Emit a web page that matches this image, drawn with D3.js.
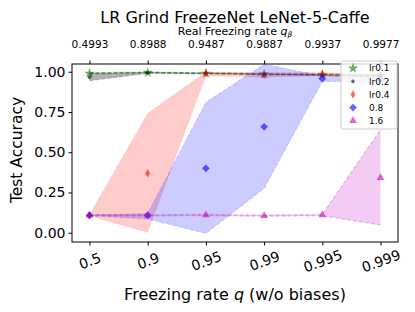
<!DOCTYPE html>
<html>
<head>
<meta charset="utf-8">
<script src="https://cdn.jsdelivr.net/npm/d3@7"></script>
<style>
  body { margin: 0; background: #fff; }
  text { font-family: "DejaVu Sans", sans-serif; }
</style>
</head>
<body>
<div id="chart"></div>
<script>
// tick labels
const categories = ["0.5", "0.9", "0.95", "0.99", "0.995", "0.999"];
const realRates = ["0.4993", "0.8988", "0.9487", "0.9887", "0.9937", "0.9977"];
const yTicks = [0, 0.25, 0.5, 0.75, 1.0];

// series values (mean, lower band, upper band)
const lr01Mean  = [0.990, 0.995, 0.990, 0.985, 0.982, 0.975];
const lr01Low   = [0.986, 0.992, 0.987, 0.982, 0.978, 0.970];
const lr01High  = [0.994, 0.998, 0.993, 0.988, 0.986, 0.980];

const lr02Mean  = [0.965, 0.993, 0.990, 0.985, 0.980, 0.975];
const lr02Low   = [0.944, 0.990, 0.987, 0.982, 0.976, 0.970];
const lr02High  = [0.992, 0.996, 0.993, 0.988, 0.984, 0.980];

const lr04Mean  = [0.108, 0.370, 0.990, 0.980, 0.986, 0.975];
const lr04Low   = [0.104, 0.002, 0.975, 0.965, 0.975, 0.965];
const lr04High  = [0.112, 0.742, 0.998, 0.995, 0.995, 0.985];

const lr08Mean  = [0.108, 0.108, 0.400, 0.658, 0.957, 0.950];
const lr08Low   = [0.105, 0.085, -0.005, 0.275, 0.940, 0.935];
const lr08High  = [0.111, 0.120, 0.810, 1.046, 0.975, 0.965];

const lr16Mean  = [0.108, 0.108, 0.110, 0.106, 0.110, 0.342];
const lr16Low   = [0.105, 0.105, 0.106, 0.102, 0.106, 0.048];
const lr16High  = [0.111, 0.111, 0.114, 0.110, 0.114, 0.640];

const series = [
  {name: "lr0.1", mean: lr01Mean, low: lr01Low, high: lr01High, color: "#008000", fill: 0.2, line: 0.3, marker: "star"},
  {name: "lr0.2", mean: lr02Mean, low: lr02Low, high: lr02High, color: "#000000", fill: 0.3, line: 0.2, marker: "dot"},
  {name: "lr0.4", mean: lr04Mean, low: lr04Low, high: lr04High, color: "#ff0000", fill: 0.2, line: 0.06, marker: "thin"},
  {name: "0.8",   mean: lr08Mean, low: lr08Low, high: lr08High, color: "#0000ff", fill: 0.2, line: 0.12, marker: "diamond"},
  {name: "1.6",   mean: lr16Mean, low: lr16Low, high: lr16High, color: "#bf00bf", fill: 0.2, line: 0.25, marker: "triangle"}
];

const W = 415, H = 312;
const pLeft = 72, pRight = 398, pTop = 64, pBottom = 242;

const svg = d3.select("#chart").append("svg")
  .attr("width", W).attr("height", H);

const x = d3.scaleLinear().domain([-0.3, 5.3]).range([pLeft, pRight]);
const y = d3.scaleLinear().domain([-0.0575, 1.048]).range([pBottom, pTop]);

const plot = svg.append("g");
plot.append("clipPath").attr("id", "clip")
  .append("rect").attr("x", pLeft).attr("y", pTop)
  .attr("width", pRight - pLeft).attr("height", pBottom - pTop);
const inner = plot.append("g").attr("clip-path", "url(#clip)");

// marker shapes
function markerPath(kind) {
  if (kind === "star") return d3.symbol(d3.symbolStar, 34)();
  if (kind === "dot") return d3.symbol(d3.symbolCircle, 10)();
  if (kind === "triangle") return d3.symbol(d3.symbolTriangle, 26)();
  return d3.symbol(d3.symbolSquare, 30)();
}
function markerTransform(kind, px, py) {
  if (kind === "diamond") return `translate(${px},${py}) rotate(45)`;
  if (kind === "thin") return `translate(${px},${py}) scale(0.6,1.1) rotate(45)`;
  return `translate(${px},${py})`;
}

const idx = d3.range(categories.length);

series.forEach(s => {
  // band
  inner.append("path")
    .datum(idx)
    .attr("fill", s.color)
    .attr("fill-opacity", s.fill)
    .attr("d", d3.area()
      .x(i => x(i))
      .y0(i => y(s.low[i]))
      .y1(i => y(s.high[i])));

  // dashed band edges
  [s.low, s.high].forEach(edge => {
    inner.append("path")
      .datum(idx)
      .attr("fill", "none")
      .attr("stroke", s.color)
      .attr("stroke-opacity", s.line)
      .attr("stroke-width", 1.2)
      .attr("stroke-dasharray", "4,2")
      .attr("d", d3.line().x(i => x(i)).y(i => y(edge[i])));
  });

  // markers
  inner.selectAll(null)
    .data(idx)
    .join("path")
    .attr("d", markerPath(s.marker))
    .attr("transform", i => markerTransform(s.marker, x(i), y(s.mean[i])))
    .attr("fill", s.color)
    .attr("fill-opacity", 0.6);
});

// bottom axis
const xAxis = plot.append("g")
  .attr("transform", `translate(0,${pBottom})`)
  .call(d3.axisBottom(x).tickValues(idx).tickFormat(i => categories[i]).tickSize(3.5).tickSizeOuter(0));
xAxis.select(".domain").remove();
xAxis.selectAll("text")
  .attr("y", 0).attr("dy", "0.35em")
  .attr("font-size", 14)
  .attr("fill", "#000")
  .attr("text-anchor", "middle")
  .attr("transform", "translate(0,19) rotate(-20)");

// top axis
const xTop = plot.append("g")
  .attr("transform", `translate(0,${pTop})`)
  .call(d3.axisTop(x).tickValues(idx).tickFormat(i => realRates[i]).tickSize(3.5).tickSizeOuter(0));
xTop.select(".domain").remove();
xTop.selectAll("text")
  .attr("y", -16.5).attr("dy", 0)
  .attr("font-size", 10.5)
  .attr("fill", "#000");

// left axis
const yAxis = plot.append("g")
  .attr("transform", `translate(${pLeft},0)`)
  .call(d3.axisLeft(y).tickValues(yTicks).tickFormat(d3.format(".2f")).tickSize(3.5).tickSizeOuter(0));
yAxis.select(".domain").remove();
yAxis.selectAll("text")
  .attr("x", -6.5)
  .attr("font-size", 14)
  .attr("fill", "#000");

// frame
plot.append("rect")
  .attr("x", pLeft).attr("y", pTop)
  .attr("width", pRight - pLeft).attr("height", pBottom - pTop)
  .attr("fill", "none").attr("stroke", "#000").attr("stroke-width", 1);

// titles
svg.append("text")
  .attr("x", (pLeft + pRight) / 2).attr("y", 22.5)
  .attr("text-anchor", "middle").attr("font-size", 16)
  .text("LR Grind FreezeNet LeNet-5-Caffe");

const topLabel = svg.append("text")
  .attr("x", (pLeft + pRight) / 2).attr("y", 35.3)
  .attr("text-anchor", "middle").attr("font-size", 11);
topLabel.append("tspan").text("Real Freezing rate ");
topLabel.append("tspan").attr("font-style", "italic").text("q");
topLabel.append("tspan").attr("font-style", "italic").attr("font-size", 7.5).attr("dy", 1.5).text("β");

const xLabel = svg.append("text")
  .attr("x", (pLeft + pRight) / 2).attr("y", 300)
  .attr("text-anchor", "middle").attr("font-size", 16);
xLabel.append("tspan").text("Freezing rate ");
xLabel.append("tspan").attr("font-style", "italic").text("q");
xLabel.append("tspan").text(" (w/o biases)");

svg.append("text")
  .attr("transform", `translate(22,${(pTop + pBottom) / 2 - 3}) rotate(-90)`)
  .attr("text-anchor", "middle").attr("font-size", 15.5)
  .text("Test Accuracy");

// legend
const lg = svg.append("g");
lg.append("rect")
  .attr("x", 341).attr("y", 61).attr("width", 56).attr("height", 68)
  .attr("rx", 2).attr("fill", "#fff").attr("fill-opacity", 0.8)
  .attr("stroke", "#cccccc").attr("stroke-width", 1);
series.forEach((s, i) => {
  const ly = 68.3 + i * 13.1;
  lg.append("path")
    .attr("d", markerPath(s.marker))
    .attr("transform", markerTransform(s.marker, 353, ly))
    .attr("fill", s.color).attr("fill-opacity", 0.6);
  lg.append("text")
    .attr("x", 369).attr("y", ly).attr("dy", "0.35em")
    .attr("font-size", 9).text(s.name);
});
</script>
</body>
</html>
